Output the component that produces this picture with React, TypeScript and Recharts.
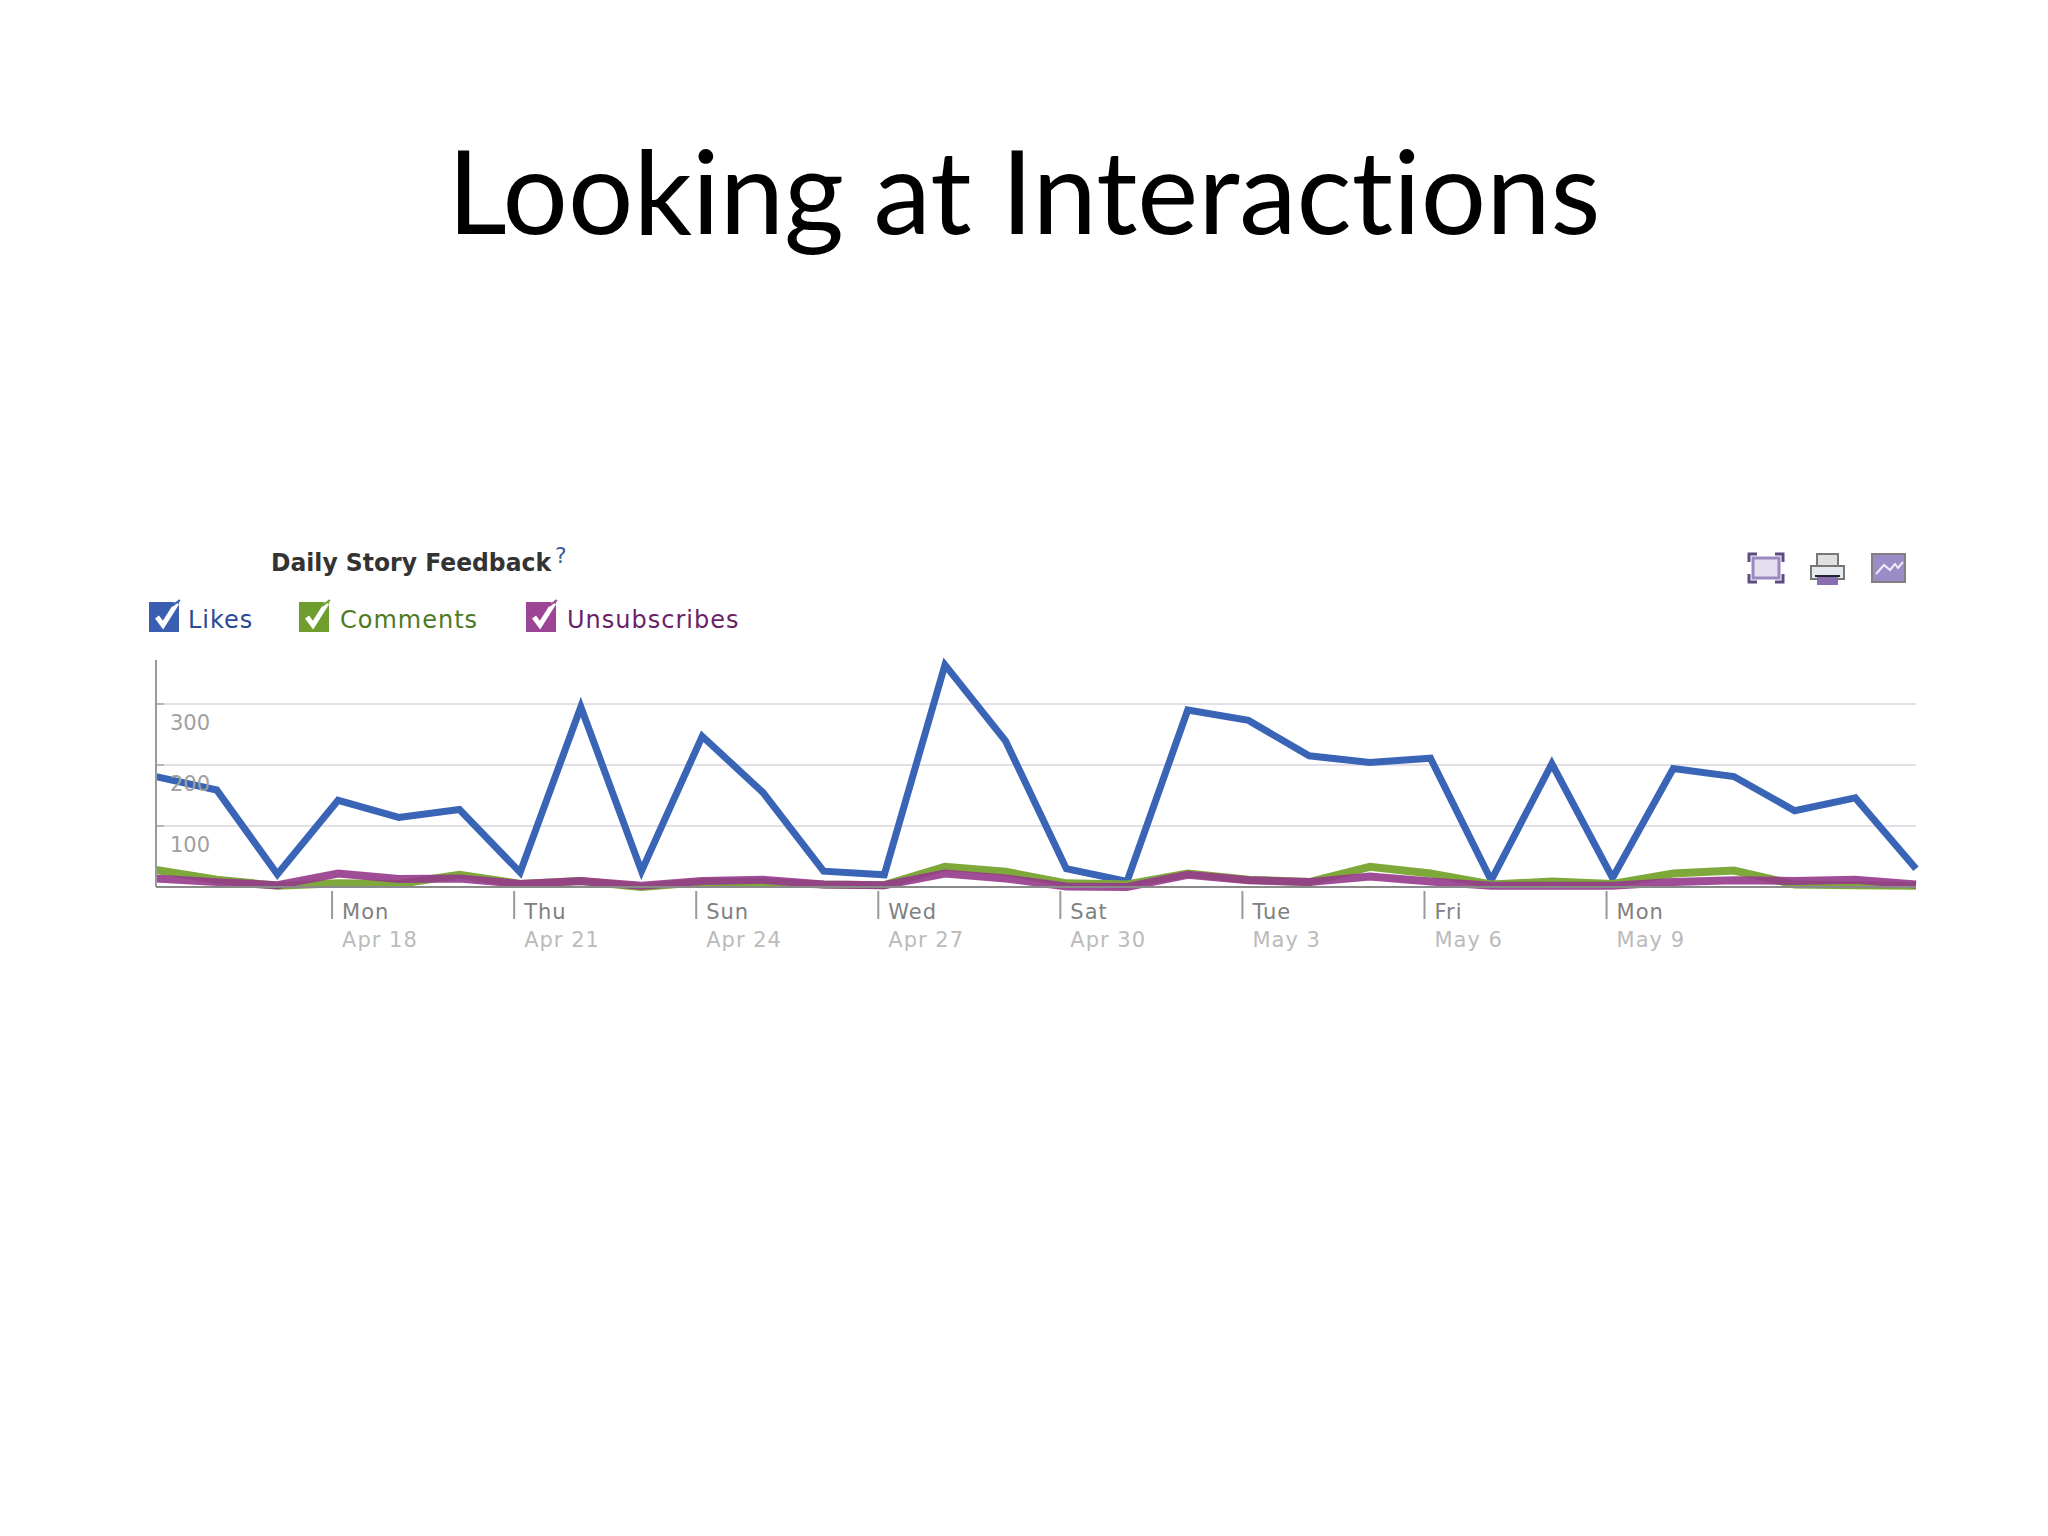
import React from 'react';
import { LineChart, Line, XAxis, YAxis, CartesianGrid } from 'recharts';

const likes = [181,159,21,142,114,127,24,295,26,247,155,26,20,364,239,30,9,290,273,215,204,211,11,202,15,194,181,125,146,30];
const comments = [28,12,2,6,5,20,5,10,0,8,8,4,3,33,25,6,4,22,12,8,33,22,4,9,5,22,27,4,3,2];
const unsubscribes = [14,8,3,22,13,14,5,10,2,10,12,4,3,22,14,1,0,20,11,8,17,9,2,2,2,8,11,10,12,4];
const weekdays = ['Mon','Thu','Sun','Wed','Sat','Tue','Fri','Mon'];
const dates = ['Apr 18','Apr 21','Apr 24','Apr 27','Apr 30','May 3','May 6','May 9'];
const xTicks = [3,6,9,12,15,18,21,24];
const yTicks = [100,200,300];
const data = likes.map((v, i) => ({ i, likes: v, comments: comments[i], unsubscribes: unsubscribes[i] }));

const mono = '"DejaVu Sans", sans-serif';

const XTick = (props: any) => {
  const { x, y, index } = props;
  const tx = x - 6;
  return (
    <g>
      <line x1={tx} x2={tx} y1={y - 4} y2={y + 24} stroke="#9a9a9a" strokeWidth={2} />
      <text x={tx + 10} y={y + 24} fontFamily={mono} fontSize={21} fill="#808080" letterSpacing={1}>{weekdays[index]}</text>
      <text x={tx + 10} y={y + 52} fontFamily={mono} fontSize={21} fill="#bbbbbb" letterSpacing={1}>{dates[index]}</text>
    </g>
  );
};

const YTick = (props: any) => {
  const { y, payload } = props;
  const x = 157;
  return (
    <g>
      <line x1={x} x2={x + 7} y1={y} y2={y} stroke="#b5b5b5" strokeWidth={2} />
      <text x={x + 13} y={y + 26} fontFamily={mono} fontSize={21} fill="#a0a0a0">{payload.value}</text>
    </g>
  );
};

const Check = ({ x, color }: { x: number; color: string }) => (
  <g>
    <rect x={x} y={603} width={28} height={28} fill={color} stroke={color} strokeWidth={2} />
    <path d={`M${x + 7} ${617} l6 8 l14 -22`} fill="none" stroke="#ffffff" strokeWidth={5} />
    <path d={`M${x + 22} ${606} l8 -6`} fill="none" stroke={color} strokeWidth={2} />
  </g>
);

const legend = [
  { label: 'Likes', box: 150, text: 188, color: '#3a5fb0', textColor: '#2b4a95' },
  { label: 'Comments', box: 300, text: 340, color: '#6f9e2e', textColor: '#4e7a1e' },
  { label: 'Unsubscribes', box: 527, text: 567, color: '#9c4496', textColor: '#6b1f68' },
];

export default function App() {
  return (
    <div style={{ position: 'absolute', left: 0, top: 0, width: 2048, height: 1536, background: '#fff' }}>
      <LineChart width={2048} height={1536} data={data} margin={{ top: 660, left: 116, right: 132, bottom: 589 }}>
        <CartesianGrid horizontal vertical={false} horizontalValues={yTicks} stroke="#e2e0e4" strokeWidth={2} />
        <XAxis dataKey="i" type="number" domain={[0, 29]} ticks={xTicks} height={60} interval={0}
          axisLine={{ stroke: '#8a8a8a', strokeWidth: 2 }} tickLine={false} tick={<XTick />} />
        <YAxis type="number" domain={[0, 372]} ticks={yTicks} width={40}
          axisLine={{ stroke: '#9a9a9a', strokeWidth: 2 }} tickLine={false} tick={<YTick />} />
        <Line dataKey="likes" stroke="#3a64b6" strokeWidth={7} dot={false} isAnimationActive={false} strokeLinejoin="miter" />
        <Line dataKey="comments" stroke="#7fa83a" strokeWidth={8} dot={false} isAnimationActive={false} />
        <Line dataKey="unsubscribes" stroke="#963a8c" strokeOpacity={0.9} strokeWidth={8} dot={false} isAnimationActive={false} />
      </LineChart>
      <svg width={2048} height={1536} style={{ position: 'absolute', left: 0, top: 0, pointerEvents: 'none' }}>
        <text x={1024} y={234} textAnchor="middle" fontFamily="Lato, sans-serif" fontSize={117} fill="#000" textLength={1153} lengthAdjust="spacingAndGlyphs" style={{ fontVariantLigatures: 'none' }}>Looking at Interactions</text>
        <text x={271} y={571} fontFamily={mono} fontSize={24} fontWeight={700} fill="#333333" textLength={280} lengthAdjust="spacingAndGlyphs">Daily Story Feedback</text>
        <text x={555} y={563} fontFamily={mono} fontSize={22} fill="#3a5fa0">?</text>
        {legend.map((l) => (
          <g key={l.label}>
            <Check x={l.box} color={l.color} />
            <text x={l.text} y={628} fontFamily={mono} fontSize={24} fill={l.textColor} letterSpacing={1}>{l.label}</text>
          </g>
        ))}
        <g>
          <rect x={1753} y={558} width={26} height={20} fill="#e4dff0" stroke="#9a88c0" strokeWidth={3} />
          <path d="M1749 562 v-8 h8 M1775 554 h8 v8 M1783 574 v8 h-8 M1757 582 h-8 v-8" fill="none" stroke="#5a4f80" strokeWidth={3} />
        </g>
        <g>
          <rect x={1817} y={554} width={21} height={12} fill="#e0e0e0" stroke="#777" strokeWidth={2} />
          <rect x={1811} y={566} width={33} height={13} fill="#e4eaee" stroke="#777" strokeWidth={2} />
          <line x1={1815} x2={1840} y1={576} y2={576} stroke="#223" strokeWidth={2} />
          <rect x={1817} y={577} width={21} height={8} fill="#8a6fb0" />
        </g>
        <g>
          <rect x={1872} y={554} width={33} height={28} fill="#9a8cc4" stroke="#808080" strokeWidth={2} />
          <path d="M1876 574 l8 -9 l6 5 l5 -6 l3 4 l5 -6" fill="none" stroke="#f0ecf8" strokeWidth={2} />
        </g>
      </svg>
    </div>
  );
}
